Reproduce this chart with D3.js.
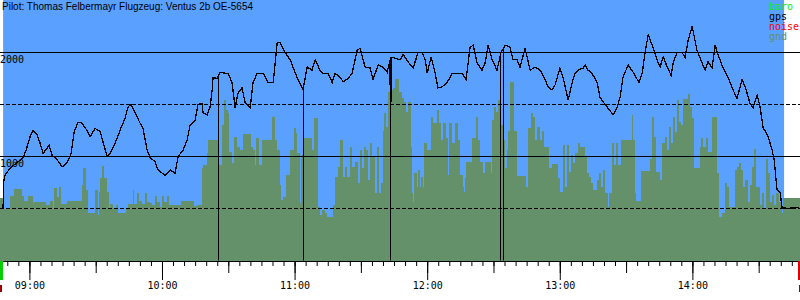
<!DOCTYPE html>
<html>
<head>
<meta charset="utf-8">
<script src="https://cdn.jsdelivr.net/npm/d3@7"></script>
<style>
  html, body { margin: 0; padding: 0; background: #fff; }
  svg { display: block; }
</style>
</head>
<body>
<svg id="chart" width="800" height="300"></svg>
<script>
// times are minutes after midnight, altitudes in metres
var title = "Pilot: Thomas Felbermayr Flugzeug: Ventus 2b OE-5654"
var viewStart = 526.7, viewEnd = 888.7
var takeoff = 528.1, landing = 881.5

var gpsTime = [528.1, 528.3, 529.0, 531.3, 534.4, 537.1, 538.5, 540.3, 541.7, 543.5, 544.8, 546.2, 548.0, 548.9, 550.3, 552.5, 554.8, 557.1, 558.9, 560.2,
  562.0, 563.8, 566.1, 567.5, 569.7, 572.0, 573.3, 575.2, 576.5, 578.8, 581.0, 583.3, 584.7, 586.0, 587.8, 590.1, 591.4, 593.3, 594.6, 596.9,
  598.2, 601.4, 603.7, 605.9, 607.3, 609.5, 611.4, 612.7, 615.0, 616.3, 618.1, 618.6, 620.4, 621.8, 622.7, 623.1, 624.9, 626.3, 628.6, 629.9,
  631.7, 633.1, 634.4, 636.2, 637.6, 639.9, 641.2, 643.0, 645.8, 648.0, 650.3, 652.1, 653.4, 655.7, 658.0, 661.1, 663.4, 663.8, 665.7, 667.9,
  669.3, 671.5, 672.9, 675.2, 677.0, 678.3, 680.6, 682.0, 684.2, 686.0, 688.3, 689.6, 691.9, 694.2, 695.5, 697.8, 700.0, 701.9, 703.2, 703.4,
  703.7, 704.6, 707.7, 709.1, 711.4, 713.6, 715.9, 717.7, 719.1, 720.0, 721.8, 723.6, 724.9, 726.7, 729.0, 731.3, 733.5, 735.8, 737.6, 739.4,
  740.8, 742.6, 744.8, 746.2, 747.6, 749.4, 751.6, 753.4, 755.3, 757.5, 758.9, 760.7, 762.0, 764.3, 766.6, 768.8, 771.1, 773.4, 774.7, 776.5,
  777.9, 780.1, 781.5, 783.8, 785.6, 786.9, 788.3, 790.6, 791.5, 792.8, 794.6, 796.9, 798.2, 800.5, 802.8, 804.1, 805.9, 807.3, 808.6, 810.9,
  813.2, 815.9, 817.3, 818.6, 820.0, 822.2, 824.0, 825.4, 826.8, 828.6, 830.4, 831.3, 833.1, 835.4, 836.7, 838.1, 839.9, 842.1, 844.4, 845.8,
  847.1, 848.9, 850.3, 851.6, 853.9, 856.2, 858.4, 860.2, 862.5, 863.9, 866.1, 867.5, 869.3, 870.6, 872.0, 874.3, 876.1, 877.0, 878.3, 879.7,
  880.6, 882.9, 887.4, 888.7]
var gpsAlt = [500, 750, 820, 890, 940, 990, 1060, 1190, 1250, 1210, 1130, 1030, 1080, 1110, 1010, 970, 900, 940, 1030, 1230,
  1330, 1320, 1250, 1190, 1270, 1240, 1140, 1000, 1030, 1130, 1250, 1370, 1480, 1500, 1420, 1320, 1270, 1060, 990, 950,
  870, 820, 870, 840, 1000, 1060, 1160, 1300, 1350, 1500, 1510, 1420, 1400, 1480, 1640, 1760, 1750, 1810, 1800, 1800,
  1710, 1470, 1610, 1660, 1520, 1470, 1710, 1800, 1800, 1710, 1710, 2090, 2100, 2000, 1930, 1760, 1660, 1640, 1860, 1830,
  1930, 1830, 1800, 1800, 1710, 1800, 1760, 1720, 1750, 1800, 2020, 2040, 1860, 1850, 1740, 1880, 1860, 1810, 1930, 970,
  1950, 1950, 1930, 1980, 1910, 1850, 2000, 2000, 1930, 1800, 1960, 1800, 1660, 1670, 1710, 1800, 1800, 1800, 1740, 2050,
  2070, 1900, 1830, 1900, 2070, 1930, 1830, 2000, 2070, 2050, 1930, 1930, 1860, 2040, 1830, 1860, 1830, 1740, 1670, 1640,
  1690, 1850, 1760, 1540, 1710, 1800, 1830, 1850, 1880, 1830, 1800, 1710, 1570, 1500, 1440, 1400, 1470, 1570, 1760, 1880,
  1810, 1710, 1800, 2000, 2170, 2050, 1930, 1860, 1960, 1860, 1780, 1900, 2000, 2000, 1950, 2120, 2250, 2020, 1900, 1830,
  1910, 1850, 2070, 1980, 1850, 1760, 1640, 1560, 1740, 1670, 1510, 1470, 1590, 1480, 1280, 1190, 1060, 970, 680, 650,
  510, 500, 510, 500]

var gndTime = [526.7, 528.1, 531.3, 533.1, 536.7, 537.6, 539.4, 541.7, 542.1, 547.6, 549.4, 550.7, 551.2, 552.5, 553.4, 554.3, 557.1, 563.8, 564.3, 565.7,
  566.6, 569.7, 571.1, 571.5, 572.0, 572.9, 573.8, 575.2, 576.1, 576.5, 577.9, 579.2, 580.1, 583.8, 584.7, 586.9, 587.4, 588.7, 589.6, 591.0,
  592.4, 593.3, 594.6, 595.5, 596.9, 597.8, 599.1, 600.0, 600.9, 602.3, 603.2, 608.6, 614.5, 615.9, 618.1, 618.6, 620.4, 620.9, 625.8, 627.2,
  628.1, 629.0, 629.9, 630.4, 631.7, 632.6, 634.0, 635.3, 636.7, 640.3, 641.2, 642.1, 642.6, 643.9, 645.3, 649.8, 651.2, 652.1, 653.4, 653.9,
  654.8, 656.2, 658.0, 659.8, 660.7, 661.1, 662.5, 662.9, 663.8, 667.9, 668.8, 670.6, 671.5, 672.4, 673.8, 674.7, 677.4, 678.3, 679.7, 680.6,
  682.0, 682.9, 683.8, 685.1, 686.0, 687.4, 688.7, 689.6, 690.5, 691.4, 692.4, 693.3, 694.2, 695.1, 696.4, 697.3, 698.2, 699.1, 700.0, 700.5,
  701.4, 702.3, 703.2, 704.6, 705.5, 707.3, 708.6, 709.5, 710.5, 711.4, 712.7, 713.2, 713.6, 714.1, 715.4, 715.9, 716.8, 717.2, 718.2, 718.6,
  720.0, 721.8, 722.7, 724.5, 725.4, 726.3, 727.2, 728.6, 729.5, 729.9, 731.3, 732.6, 734.0, 734.9, 736.2, 736.7, 737.2, 737.6, 740.3, 742.1,
  743.0, 744.0, 745.3, 746.2, 748.9, 749.4, 750.3, 751.2, 752.1, 753.0, 754.8, 755.3, 756.2, 756.6, 757.5, 759.3, 760.7, 764.8, 765.7, 767.0,
  767.9, 768.8, 769.7, 771.1, 772.0, 772.9, 775.2, 776.5, 779.2, 780.1, 781.5, 782.4, 783.3, 784.2, 785.1, 786.0, 786.9, 788.3, 789.2, 791.5,
  792.4, 793.3, 794.2, 795.1, 796.9, 797.8, 798.7, 799.6, 800.5, 801.9, 802.3, 803.7, 804.6, 805.5, 806.4, 807.7, 812.7, 813.2, 814.1, 814.5,
  816.8, 820.9, 821.8, 822.7, 823.6, 825.4, 826.3, 827.7, 828.6, 829.5, 830.4, 831.3, 832.2, 833.1, 834.0, 834.9, 835.8, 838.1, 839.0, 839.9,
  840.8, 843.5, 844.0, 844.9, 846.2, 847.1, 848.9, 851.2, 852.1, 853.4, 854.8, 855.7, 856.6, 859.3, 860.2, 861.1, 862.0, 862.9, 863.9, 865.2,
  866.1, 867.0, 867.9, 868.8, 870.6, 871.5, 872.4, 873.4, 874.3, 875.2, 876.1, 877.0, 877.9, 879.2, 880.6, 881.0]
var gndAlt = [600, 500, 620, 690, 620, 570, 620, 550, 560, 530, 570, 500, 700, 610, 710, 540, 570, 730, 890, 680,
  460, 680, 440, 660, 790, 910, 790, 660, 500, 540, 500, 530, 460, 500, 540, 680, 540, 650, 570, 540,
  650, 560, 550, 530, 620, 560, 510, 620, 560, 620, 530, 570, 520, 530, 890, 920, 1030, 1160, 920, 1300,
  1540, 1450, 1420, 1040, 940, 1190, 1090, 1060, 1220, 1090, 1060, 920, 1180, 920, 1160, 1380, 1160, 1060, 730, 580,
  610, 820, 1060, 1270, 1230, 1030, 550, 1010, 1180, 1060, 1370, 510, 440, 490, 460, 420, 530, 800, 900, 1160,
  800, 900, 800, 1090, 900, 950, 750, 1060, 890, 1090, 1060, 770, 1130, 1000, 650, 1090, 650, 750, 1250, 1420,
  1280, 1620, 1640, 1660, 1750, 1620, 1560, 1520, 1430, 1520, 1090, 650, 560, 840, 710, 870, 710, 800, 710, 1130,
  1060, 1380, 1320, 1450, 1320, 1160, 1320, 1180, 820, 1320, 1130, 1320, 1160, 820, 710, 660, 790, 950, 1180, 1380,
  1160, 950, 840, 950, 840, 1350, 1480, 1430, 1540, 1300, 1160, 890, 1060, 1250, 1720, 1250, 810, 710, 1270, 1420,
  1380, 1160, 1280, 1160, 1250, 1090, 890, 930, 790, 660, 1110, 710, 1110, 850, 1010, 940, 1030, 1130, 1090, 1000,
  840, 800, 750, 680, 770, 840, 710, 870, 650, 510, 650, 1130, 920, 1130, 920, 1160, 1400, 1160, 650, 570,
  860, 980, 1380, 1190, 850, 770, 1130, 1190, 1060, 1280, 1130, 1380, 1240, 1540, 1330, 1300, 1550, 1600, 1480, 1370,
  890, 1090, 1180, 1090, 1180, 1040, 1380, 840, 420, 460, 750, 710, 510, 870, 900, 940, 870, 710, 770, 560,
  730, 900, 1070, 710, 530, 650, 500, 980, 840, 560, 630, 530, 650, 560, 460, 600]

var markerTimes = [625.4, 663.8, 703.3, 753.0, 754.3]
var gridLevels = [500, 1000, 1500, 2000]
var solidLevels = [1000, 2000]
var legendNames = ["baro", "gps", "noise", "gnd"]
var legendColors = ["#00f000", "#000000", "#ff0000", "#64906a"]

var W = 800, H = 300, baseY = 261
var at = m => new Date(2000, 0, 1, 0, 0, Math.round(m * 60))

var svg = d3.select("#chart")
svg.style("font-family", "'DejaVu Sans Mono', monospace")

var x = d3.scaleTime().domain([at(viewStart), at(viewEnd)]).range([0, W])
var y = d3.scaleLinear().domain([0, 2500]).range([260.5, 0.5])

// flying period background
svg.append("rect")
  .attr("x", x(at(takeoff))).attr("y", 0)
  .attr("width", x(at(landing)) - x(at(takeoff)))
  .attr("height", y(0))
  .attr("fill", "#5aa0ff")

// terrain under the track
var gnd = gndTime.map((t, i) => ({ t: at(t), a: gndAlt[i] }))
gnd.push({ t: at(viewEnd), a: gndAlt[gndAlt.length - 1] })
svg.append("path")
  .datum(gnd)
  .attr("fill", "#64906a")
  .attr("shape-rendering", "crispEdges")
  .attr("d", d3.area().curve(d3.curveStepAfter)
    .x(d => x(d.t)).y0(y(0)).y1(d => y(d.a)))

svg.selectAll(".grid").data(gridLevels).enter().append("line")
  .attr("class", "grid")
  .attr("x1", 0).attr("x2", W)
  .attr("y1", d => Math.floor(y(d)) + 0.5).attr("y2", d => Math.floor(y(d)) + 0.5)
  .attr("stroke", "#000")
  .attr("stroke-dasharray", d => solidLevels.includes(d) ? null : "4,2")

svg.selectAll(".ylab").data(solidLevels).enter().append("text")
  .attr("class", "ylab")
  .attr("x", 0).attr("y", d => y(d) + 10.5)
  .attr("font-size", 10)
  .text(d => d)

var gps = gpsTime.map((t, i) => ({ t: t, a: gpsAlt[i] }))
var altAt = t => {
  var i = d3.bisector(d => d.t).left(gps, t)
  if (i <= 0) return gps[0].a
  var p = gps[i - 1], q = gps[i]
  return p.a + (q.a - p.a) * (t - p.t) / (q.t - p.t)
}

svg.selectAll(".marker").data(markerTimes).enter().append("line")
  .attr("class", "marker")
  .attr("x1", d => Math.round(x(at(d))) + 0.5).attr("x2", d => Math.round(x(at(d))) + 0.5)
  .attr("y1", d => y(altAt(d))).attr("y2", y(0))
  .attr("stroke", "#000")

svg.append("path")
  .datum(gps)
  .attr("fill", "none")
  .attr("stroke", "#000")
  .attr("stroke-width", 1.3)
  .attr("shape-rendering", "crispEdges")
  .attr("d", d3.line().x(d => x(at(d.t))).y(d => y(d.a)))

// time axis: 5 min, 30 min and hour ticks
var axisG = svg.append("g").attr("transform", "translate(0," + baseY + ")")
axisG.append("g")
  .call(d3.axisBottom(x).ticks(d3.timeMinute.every(5)).tickSize(5).tickSizeOuter(0).tickFormat(""))
axisG.append("g")
  .call(d3.axisBottom(x).ticks(d3.timeMinute.every(30)).tickSize(12).tickSizeOuter(0).tickFormat(""))
axisG.append("g")
  .call(d3.axisBottom(x).ticks(d3.timeHour.every(1)).tickSize(19).tickSizeOuter(0).tickPadding(2)
    .tickFormat(d3.timeFormat("%H:%M")))
axisG.selectAll("text").attr("font-family", "'DejaVu Sans Mono', monospace").attr("font-size", 10).attr("fill", "#000")
axisG.selectAll("path, line").attr("stroke", "#000")

// takeoff / landing flags
svg.append("rect").attr("x", 0).attr("y", baseY).attr("width", 3).attr("height", 19).attr("fill", "#00d000")
svg.append("rect").attr("x", 0).attr("y", 285).attr("width", 2).attr("height", 7).attr("fill", "#a00000")
svg.append("rect").attr("x", W - 2).attr("y", baseY).attr("width", 2).attr("height", 19).attr("fill", "#e00000")
svg.append("rect").attr("x", W - 1).attr("y", 285).attr("width", 1).attr("height", 7).attr("fill", "#a00000")

svg.append("text")
  .attr("x", 2).attr("y", 10)
  .attr("font-family", "'Liberation Sans', Arial, sans-serif")
  .attr("font-size", 10)
  .text(title)

svg.selectAll(".leg").data(legendNames).enter().append("text")
  .attr("class", "leg")
  .attr("x", 769).attr("y", (d, i) => 10 + i * 10)
  .attr("font-size", 10)
  .attr("fill", (d, i) => legendColors[i])
  .text(d => d)
</script>
</body>
</html>
